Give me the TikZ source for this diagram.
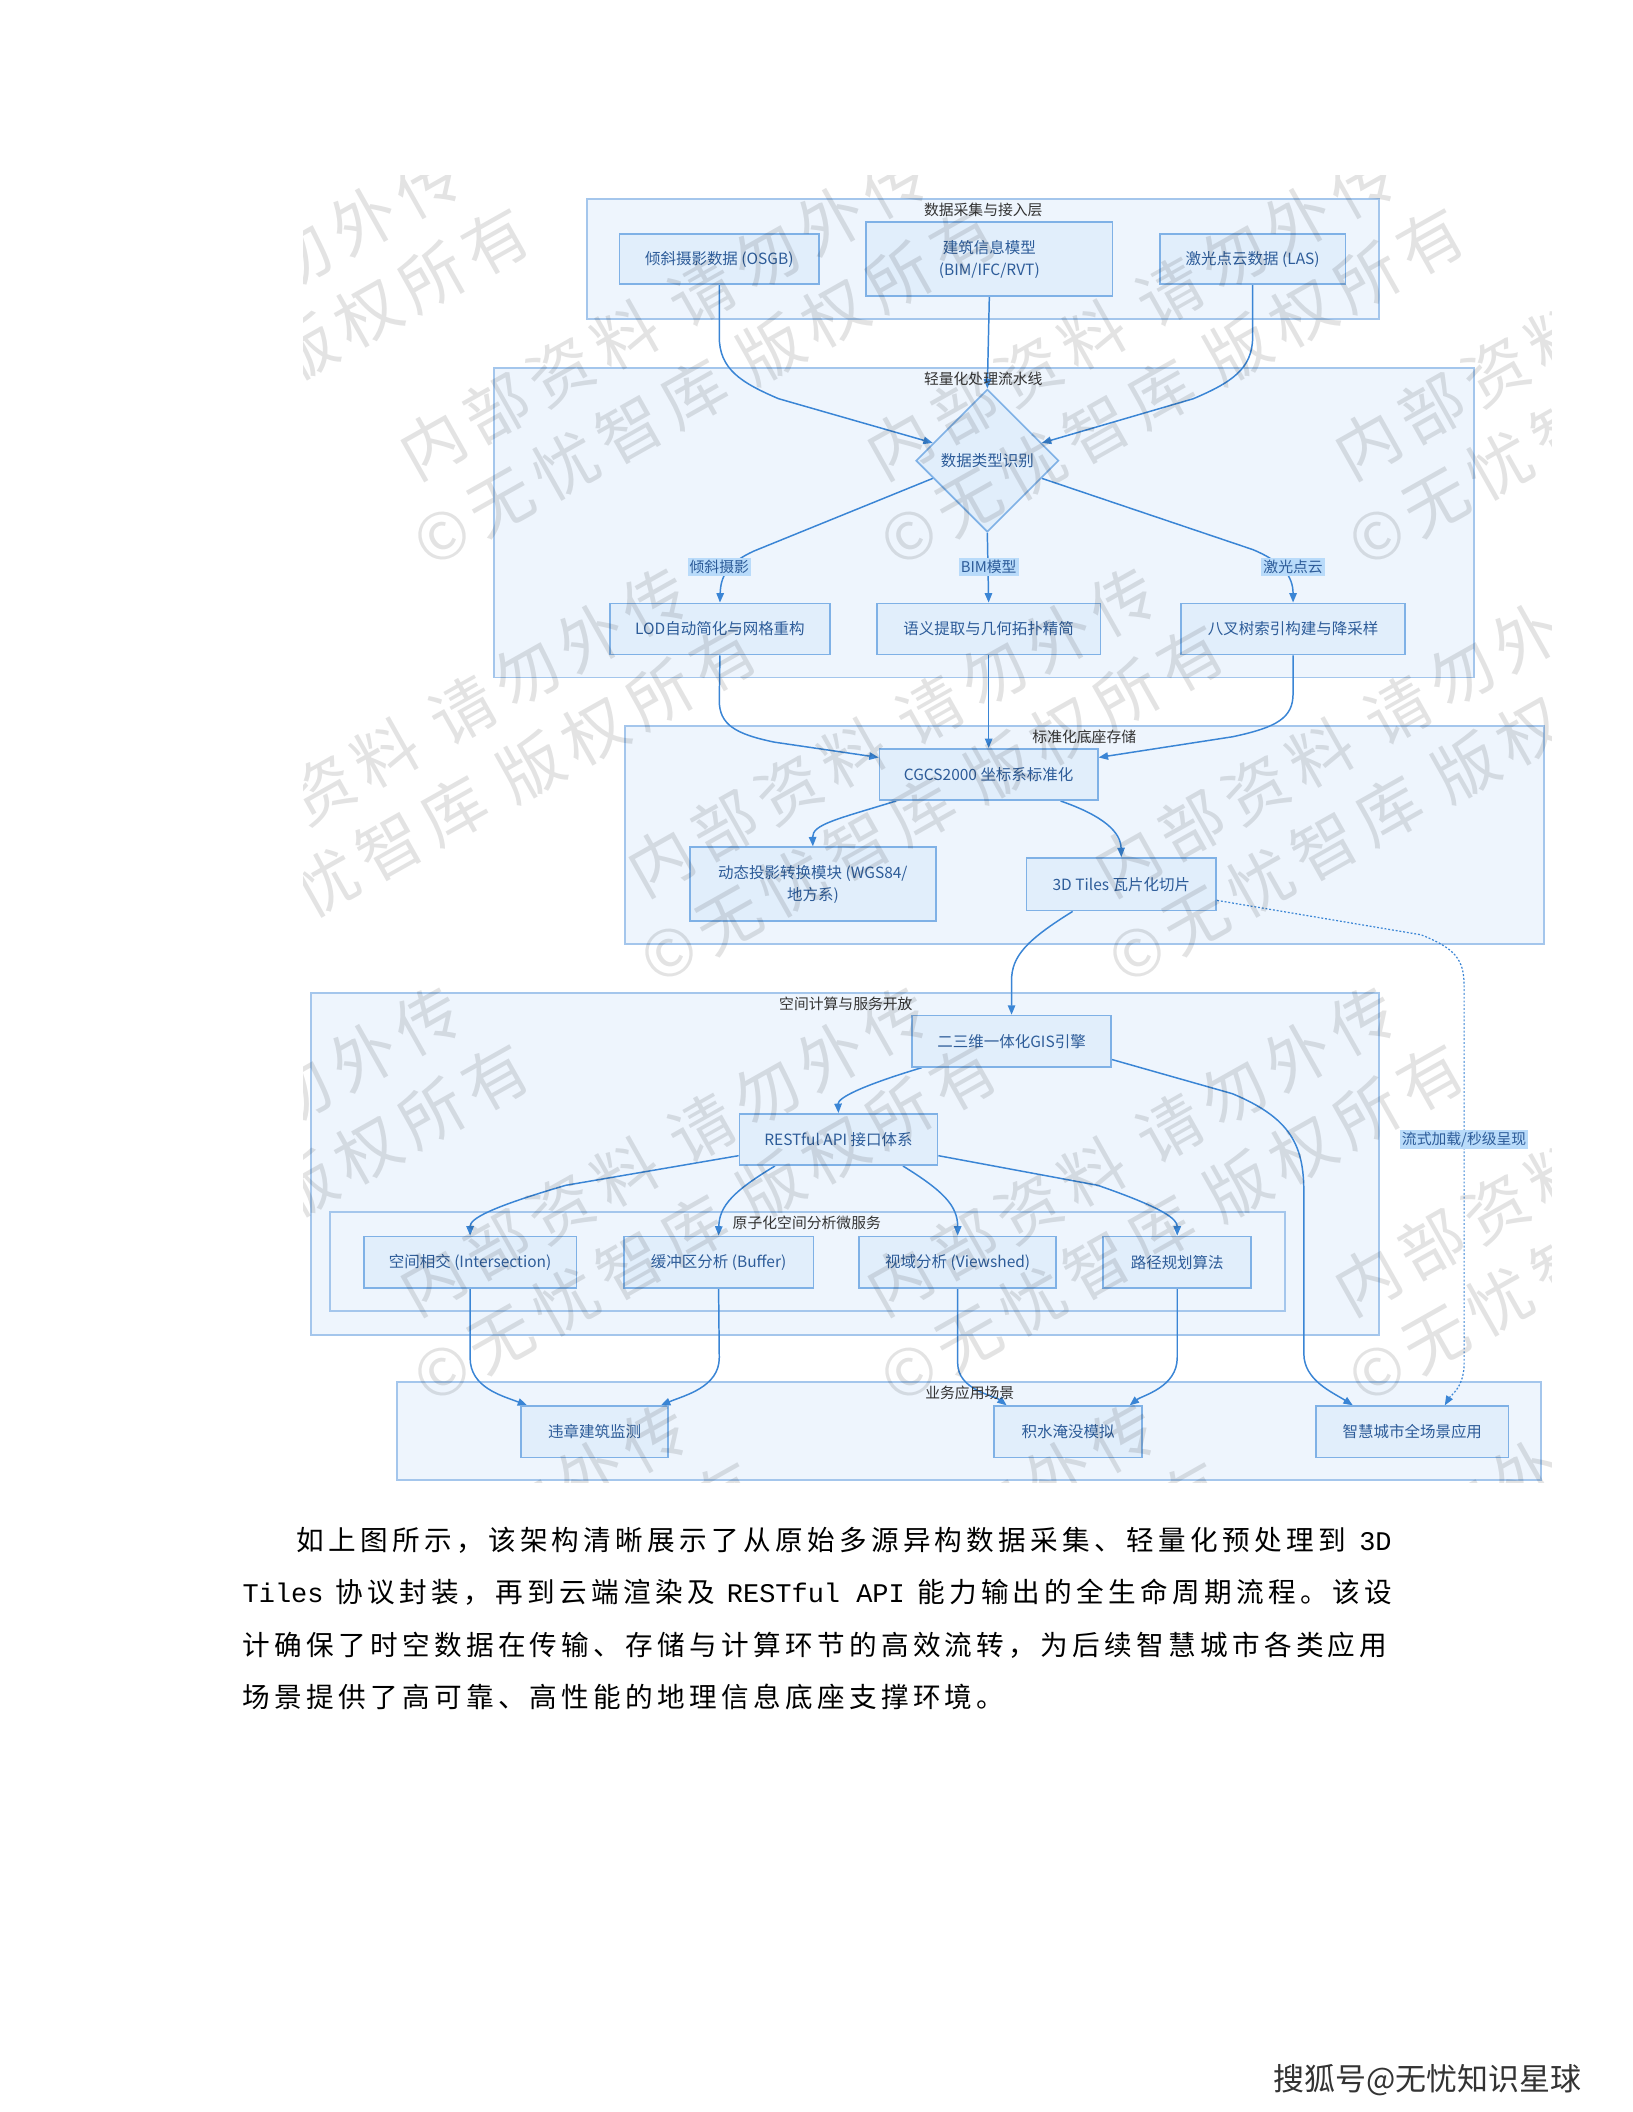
\documentclass[tikz,border=0pt]{standalone}
\usepackage{fontspec}
\newfontfamily\cjk{Noto Sans CJK SC}
\newfontfamily\parafont[LetterSpace=15.6]{Noto Sans CJK SC}
\newfontfamily\paramono{Liberation Mono}
\newfontfamily\wmfont[LetterSpace=14]{Noto Sans CJK SC}
\usetikzlibrary{shapes.geometric,arrows.meta,calc}
\definecolor{layerfill}{HTML}{EEF5FD}
\definecolor{layerdraw}{HTML}{A4C6EC}
\definecolor{boxfill}{HTML}{E1EEFB}
\definecolor{boxdraw}{HTML}{7FB1E6}
\definecolor{boxtext}{HTML}{2D5C99}
\definecolor{edgecol}{HTML}{3A85D5}
\definecolor{labfill}{HTML}{B9DBFA}
\definecolor{titletext}{HTML}{333333}
\pgfdeclarelayer{back}
\pgfdeclarelayer{edges}
\pgfdeclarelayer{front}
\pgfsetlayers{back,edges,main,front}
\tikzset{
  layer/.style={draw=layerdraw, fill=layerfill, line width=1.4pt, inner sep=0},
  ltitle/.style={font=\cjk\fontsize{11}{13}\selectfont, text=titletext, inner sep=1pt},
  box/.style={draw=boxdraw, fill=boxfill, line width=1.3pt, inner sep=0, text=boxtext,
    font=\cjk\fontsize{11.5}{16.5}\selectfont, align=center, minimum height=38pt},
  elab/.style={fill=labfill, text=boxtext, font=\cjk\fontsize{11}{13}\selectfont, inner sep=1.5pt},
  edge/.style={draw=edgecol, line width=1.1pt, -{Triangle[length=7pt,width=5.5pt]}},
  dotedge/.style={draw=edgecol, line width=0.9pt, dash pattern=on 1.4pt off 1.4pt, -{Triangle[length=7pt,width=5.5pt]}},
  wm/.style={font=\wmfont\fontsize{48}{62}\selectfont, text=black, text opacity=0.11, align=center, inner sep=0, rotate=29.4},
  para/.style={anchor=base west, inner sep=0, font=\parafont\fontsize{20.5}{24}\selectfont, text=black}
}
\begin{document}
\begin{tikzpicture}[x=1pt,y=-1pt]
\useasboundingbox (0,0) rectangle (1212,1568);

% ---------- layers ----------
\begin{pgfonlayer}{back}
\fill[white] (0,0) rectangle (1212,1568);
\node[layer, minimum width=588pt, minimum height=89pt] (L1) at (730,192.5) {};
\node[layer, minimum width=727pt, minimum height=230pt] (L2) at (730.5,388) {};
\node[layer, minimum width=682pt, minimum height=162pt] (L3) at (805,620) {};
\node[layer, minimum width=793pt, minimum height=254pt] (L4) at (627.5,864) {};
\node[layer, minimum width=709pt, minimum height=73pt] (L4s) at (599.5,936.5) {};
\node[layer, minimum width=849pt, minimum height=73pt] (L5) at (719.5,1062.5) {};
\end{pgfonlayer}

\node[ltitle] (L1t) at (730,156) {数据采集与接入层};
\node[ltitle] (L2t) at (730,281) {轻量化处理流水线};
\node[ltitle] (L3t) at (805,547) {标准化底座存储};
\node[ltitle] (L4t) at (628,745) {空间计算与服务开放};
\node[ltitle] (L4st) at (599,908) {原子化空间分析微服务};
\node[ltitle] (L5t) at (720,1034) {业务应用场景};

% ---------- nodes ----------
\node[box, minimum width=148pt, minimum height=37pt] (osgb) at (534,192.5) {倾斜摄影数据 (OSGB)};
\node[box, minimum width=183pt, minimum height=55pt] (bim) at (734.5,192.5) {建筑信息模型\\(BIM/IFC/RVT)};
\node[box, minimum width=138pt, minimum height=37pt] (las) at (930,192.5) {激光点云数据 (LAS)};

\node[diamond, draw=boxdraw, fill=boxfill, line width=1.2pt, minimum width=106pt, minimum height=106pt,
  inner sep=0, text=boxtext, font=\cjk\fontsize{11.5}{14}\selectfont] (diam) at (733,342) {数据类型识别};

\node[box, minimum width=163pt] (lod) at (534.5,467) {LOD自动简化与网格重构};
\node[box, minimum width=166pt] (sem) at (734,467) {语义提取与几何拓扑精简};
\node[box, minimum width=166pt] (oct) at (960,467) {八叉树索引构建与降采样};

\node[box, minimum width=162pt] (cgcs) at (734,575) {CGCS2000 坐标系标准化};
\node[box, minimum width=183pt, minimum height=55pt] (dyn) at (603.5,656.5) {动态投影转换模块 (WGS84/\\地方系)};
\node[box, minimum width=141pt, minimum height=39pt] (tiles) at (832.5,656.5) {3D Tiles 瓦片化切片};

\node[box, minimum width=148pt] (gis) at (751,773) {二三维一体化GIS引擎};
\node[box, minimum width=147pt] (api) at (622.5,846) {RESTful API 接口体系};

\node[box, minimum width=158pt] (int) at (349,937) {空间相交 (Intersection)};
\node[box, minimum width=141pt] (buf) at (533.5,937) {缓冲区分析 (Buffer)};
\node[box, minimum width=146pt] (view) at (711,937) {视域分析 (Viewshed)};
\node[box, minimum width=110pt] (route) at (874,937) {路径规划算法};

\node[box, minimum width=109pt] (illegal) at (441.5,1063) {违章建筑监测};
\node[box, minimum width=110pt] (flood) at (793,1063) {积水淹没模拟};
\node[box, minimum width=143pt] (smart) at (1048.5,1063) {智慧城市全场景应用};

% ---------- edge labels ----------
\node[elab] (lab1) at (534,421) {倾斜摄影};
\node[elab] (lab2) at (734,421) {BIM模型};
\node[elab] (lab3) at (960,421) {激光点云};
\node[elab] (lab4) at (1087,846) {流式加载/秒级呈现};

% ---------- edges ----------
\begin{pgfonlayer}{edges}
\draw[edge] (osgb.south) -- (534,250) .. controls (534,274) and (550,284) .. (578,296) -- (diam.162);
\draw[edge] (bim.south) -- (diam.north);
\draw[edge] (las.south) -- (930,250) .. controls (930,274) and (914,284) .. (886,296) -- (diam.18);

\draw[edge] (diam.198) -- (560,409) .. controls (540,418) and (535,428) .. (lod.north);
\draw[edge] (diam.south) -- (sem.north);
\draw[edge] (diam.342) -- (930,408) .. controls (952,417) and (960,428) .. (oct.north);

\draw[edge] (lod.south) -- (534,520) .. controls (534,538) and (546,545) .. (575,551) -- ($(cgcs.north west)+(0,7)$);
\draw[edge] (sem.south) -- (cgcs.north);
\draw[edge] (oct.south) -- (960,515) .. controls (960,533) and (948,540) .. (915,547) -- ($(cgcs.north east)+(0,7)$);

\draw[edge] ($(cgcs.south west)+(13,0)$) .. controls (622,608) and (603,612) .. (dyn.north);
\draw[edge] ($(cgcs.south west)+(135,0)$) .. controls (820,606) and (832,618) .. (tiles.north);

\draw[edge] ($(tiles.south west)+(35,0)$) .. controls (762,698) and (751,710) .. (751,728) -- (gis.north);
\draw[dotedge] ($(tiles.east)+(0,12)$) -- (1055,694) .. controls (1080,704) and (1087,712) .. (1087,732) -- (1087,1012) .. controls (1087,1030) and (1077,1036) .. ($(smart.north east)+(-48,0)$);

\draw[edge] ($(gis.south west)+(8,0)$) .. controls (640,806) and (622,815) .. (api.north);
\draw[edge] ($(gis.south east)+(0,-6)$) -- (915,812) .. controls (958,830) and (968,850) .. (968,885) -- (968,1005) .. controls (968,1025) and (990,1034) .. ($(smart.north west)+(28,0)$);

\draw[edge] ($(api.west)+(0,12)$) -- (420,880) .. controls (362,897) and (349,905) .. (int.north);
\draw[edge] ($(api.south west)+(27,0)$) .. controls (545,884) and (534,895) .. (buf.north);
\draw[edge] ($(api.south west)+(122,0)$) .. controls (700,884) and (711,895) .. (view.north);
\draw[edge] ($(api.east)+(0,12)$) -- (815,880) .. controls (864,897) and (874,905) .. (route.north);

\draw[edge] (int.south) -- (349,1008) .. controls (349,1030) and (372,1036) .. ($(illegal.north west)+(5,0)$);
\draw[edge] (buf.south) -- (534,1008) .. controls (534,1030) and (508,1036) .. ($(illegal.north east)+(-6,0)$);
\draw[edge] (view.south) -- (711,1012) .. controls (711,1032) and (738,1036) .. ($(flood.north west)+(10,0)$);
\draw[edge] (route.south) -- (874,1008) .. controls (874,1030) and (848,1036) .. ($(flood.north east)+(-10,0)$);
\end{pgfonlayer}

% ---------- watermark ----------
\begin{pgfonlayer}{front}
\begin{scope}
\clip (225,130) rectangle (1152,1101);
\node[wm] (w01) at (-17,-50) {内部资料 请勿外传\\©无忧智库 版权所有};
\node[wm] (w02) at (330,-50) {内部资料 请勿外传\\©无忧智库 版权所有};
\node[wm] (w03) at (677,-50) {内部资料 请勿外传\\©无忧智库 版权所有};
\node[wm] (w04) at (1024,-50) {内部资料 请勿外传\\©无忧智库 版权所有};
\node[wm] (w05) at (1371,-50) {内部资料 请勿外传\\©无忧智库 版权所有};
\node[wm] (w11) at (161,260) {内部资料 请勿外传\\©无忧智库 版权所有};
\node[wm] (w12) at (508,260) {内部资料 请勿外传\\©无忧智库 版权所有};
\node[wm] (w13) at (855,260) {内部资料 请勿外传\\©无忧智库 版权所有};
\node[wm] (w14) at (1202,260) {内部资料 请勿外传\\©无忧智库 版权所有};
\node[wm] (w21) at (330,570) {内部资料 请勿外传\\©无忧智库 版权所有};
\node[wm] (w22) at (677,570) {内部资料 请勿外传\\©无忧智库 版权所有};
\node[wm] (w23) at (1024,570) {内部资料 请勿外传\\©无忧智库 版权所有};
\node[wm] (w24) at (1371,570) {内部资料 请勿外传\\©无忧智库 版权所有};
\node[wm] (w31) at (161,881) {内部资料 请勿外传\\©无忧智库 版权所有};
\node[wm] (w32) at (508,881) {内部资料 请勿外传\\©无忧智库 版权所有};
\node[wm] (w33) at (855,881) {内部资料 请勿外传\\©无忧智库 版权所有};
\node[wm] (w34) at (1202,881) {内部资料 请勿外传\\©无忧智库 版权所有};
\node[wm] (w41) at (330,1191) {内部资料 请勿外传\\©无忧智库 版权所有};
\node[wm] (w42) at (677,1191) {内部资料 请勿外传\\©无忧智库 版权所有};
\node[wm] (w43) at (1024,1191) {内部资料 请勿外传\\©无忧智库 版权所有};
\end{scope}
\end{pgfonlayer}

% ---------- paragraph ----------
\node[para] (p1) at (220,1151) {\hbox to 813pt{{\parafont 如上图所示，该架构清晰展示了从原始多源异构数据采集、轻量化预处理到}\hfill{\paramono\fontsize{20}{24}\selectfont 3D}}};
\node[para] (p2) at (180,1190) {\hbox to 853pt{{\paramono\fontsize{20}{24}\selectfont Tiles}\hfill{\parafont 协议封装，再到云端渲染及}\hfill{\paramono\fontsize{20}{24}\selectfont RESTful API}\hfill{\parafont 能力输出的全生命周期流程。该设}}};
\node[para] (p3) at (180,1229) {计确保了时空数据在传输、存储与计算环节的高效流转，为后续智慧城市各类应用};
\node[para] (p4) at (180,1268) {场景提供了高可靠、高性能的地理信息底座支撑环境。};

\node[anchor=base west, inner sep=0, font=\cjk\fontsize{23}{26}\selectfont, text=black!80] (foot) at (945,1552) {搜狐号@无忧知识星球};
\end{tikzpicture}
\end{document}
